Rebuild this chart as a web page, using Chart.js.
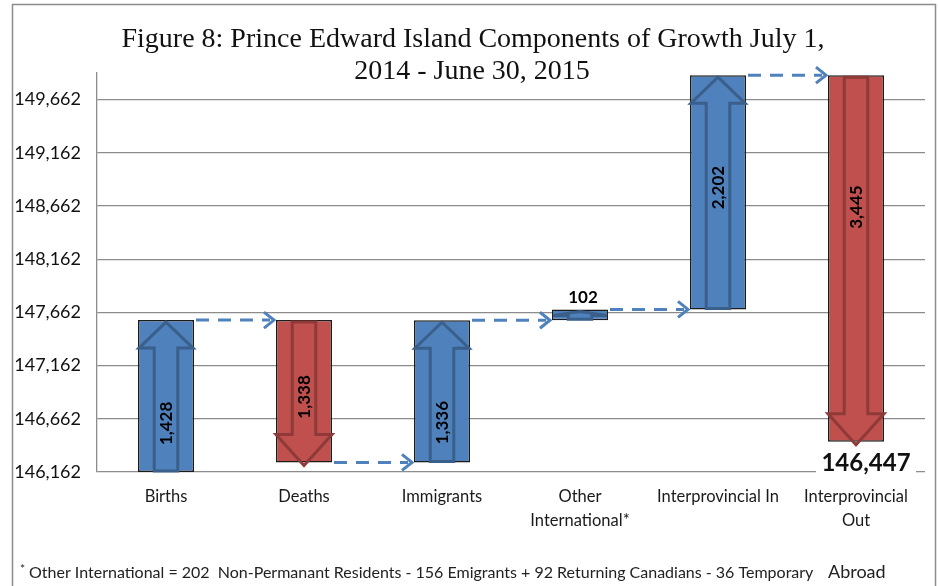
<!DOCTYPE html>
<html>
<head>
<meta charset="utf-8">
<script src="https://cdn.jsdelivr.net/npm/chart.js@4"></script>
<style>
  body { margin: 0; background: #fff; }
  #wrap { width: 938px; height: 586px; }
</style>
</head>
<body>
<div id="wrap"><canvas id="growthChart" width="938" height="586"></canvas></div>
<script>
// Components of growth, PEI, July 1 2014 - June 30 2015
const categories = ['Births', 'Deaths', 'Immigrants', ['Other', 'International*'], 'Interprovincial In', ['Interprovincial', 'Out']];
const changes = [1428, -1338, 1336, 102, 2202, -3445];
const startPopulation = 146162;
const endPopulation = 146447;
const tickValues = [146162, 146662, 147162, 147662, 148162, 148662, 149162, 149662];

const blue = '#4F81BD';
const red = '#C0504D';

// floating bar ranges for the waterfall
let level = startPopulation;
const ranges = changes.map(c => {
    const r = [level, level + c];
    level += c;
    return r;
});

const fmt = v => Math.abs(v).toLocaleString('en-US');

// frame, title and footnote
const decorPlugin = {
    id: 'decor',
    beforeDraw(chart) {
        const ctx = chart.ctx;
        ctx.save();
        ctx.fillStyle = '#fff';
        ctx.fillRect(0, 0, chart.width, chart.height);
        ctx.strokeStyle = '#8c8c8c';
        ctx.lineWidth = 1.5;
        ctx.strokeRect(12.5, 4.5, 923, 620);
        ctx.restore();
    },
    afterDraw(chart) {
        const ctx = chart.ctx;
        ctx.save();
        ctx.fillStyle = '#111';
        ctx.textAlign = 'center';
        ctx.textBaseline = 'middle';
        ctx.font = '28px "Liberation Serif", serif';
        ctx.fillText('Figure 8: Prince Edward Island Components of Growth July 1,', 473, 40, 717);
        ctx.fillText('2014 - June 30, 2015', 472, 72, 240);

        ctx.textAlign = 'left';
        ctx.fillStyle = '#222';
        ctx.font = '12px Lato, sans-serif';
        ctx.fillText('*', 20, 569);
        ctx.font = '16px Lato, sans-serif';
        ctx.fillText('Other International = 202  Non-Permanant Residents - 156 Emigrants + 92 Returning Canadians - 36 Temporary', 29, 573, 795);
        ctx.font = '18px Lato, sans-serif';
        ctx.fillText('Abroad', 828, 572, 60);
        ctx.restore();
    }
};

// arrows inside bars, dashed connectors, value labels
const waterfallPlugin = {
    id: 'waterfall',
    afterDatasetsDraw(chart, args, opts) {
        const ctx = chart.ctx;
        const y = chart.scales.y;
        const bars = chart.getDatasetMeta(0).data;
        ctx.save();

        bars.forEach((bar, i) => {
            const p = bar.getProps(['x', 'y', 'base', 'width'], true);
            const top = Math.min(p.y, p.base), bottom = Math.max(p.y, p.base);
            const l = p.x - p.width / 2, r = p.x + p.width / 2;
            const up = changes[i] > 0;
            const h = bottom - top;
            const hh = Math.min(28, h * 0.55);
            const sw = p.width * 0.21;
            ctx.strokeStyle = up ? '#3A5F8B' : '#8E3A38';
            ctx.lineWidth = 3;
            ctx.lineJoin = 'miter';
            ctx.beginPath();
            if (up) {
                ctx.moveTo(p.x, top + 2);
                ctx.lineTo(r - 1, top + hh);
                ctx.lineTo(p.x + sw, top + hh);
                ctx.lineTo(p.x + sw, bottom - 1);
                ctx.lineTo(p.x - sw, bottom - 1);
                ctx.lineTo(p.x - sw, top + hh);
                ctx.lineTo(l + 1, top + hh);
            } else {
                ctx.moveTo(p.x, bottom + 3);
                ctx.lineTo(r, bottom - hh);
                ctx.lineTo(p.x + sw, bottom - hh);
                ctx.lineTo(p.x + sw, top + 2);
                ctx.lineTo(p.x - sw, top + 2);
                ctx.lineTo(p.x - sw, bottom - hh);
                ctx.lineTo(l, bottom - hh);
            }
            ctx.closePath();
            ctx.stroke();

            // value label
            ctx.fillStyle = '#000';
            ctx.textAlign = 'center';
            ctx.textBaseline = 'middle';
            const at = opts.labelAt[i];
            if (at === null) {
                ctx.font = 'bold 17px Lato, sans-serif';
                ctx.fillText(fmt(changes[i]), p.x + 3, top - 12);
            } else {
                ctx.save();
                ctx.translate(p.x + 1, top + h * at);
                ctx.rotate(-Math.PI / 2);
                ctx.font = 'bold 17px Lato, sans-serif';
                ctx.fillText(fmt(changes[i]), 0, 0);
                ctx.restore();
            }

            // dashed connector to the next bar
            if (i < bars.length - 1) {
                const n = bars[i + 1].getProps(['x', 'width'], true);
                const yy = y.getPixelForValue(ranges[i][1]);
                const x1 = r + 2, x2 = n.x - n.width / 2 - 2;
                ctx.strokeStyle = blue;
                ctx.lineWidth = 3;
                ctx.setLineDash([13, 9]);
                ctx.beginPath();
                ctx.moveTo(x1, yy);
                ctx.lineTo(x2 - 4, yy);
                ctx.stroke();
                ctx.setLineDash([]);
                ctx.beginPath();
                ctx.moveTo(x2 - 10, yy - 8);
                ctx.lineTo(x2, yy);
                ctx.lineTo(x2 - 10, yy + 8);
                ctx.stroke();
            }
        });

        // final population
        const last = bars[bars.length - 1].getProps(['x', 'y', 'base'], true);
        const lastBottom = Math.max(last.y, last.base);
        ctx.fillStyle = '#fff';
        ctx.fillRect(last.x - 40, lastBottom + 7, 100, 28);
        ctx.fillStyle = '#111';
        ctx.font = 'bold 24px Lato, sans-serif';
        ctx.textAlign = 'center';
        ctx.fillText(endPopulation.toLocaleString('en-US'), last.x + 10, lastBottom + 22);
        ctx.restore();
    }
};

const ctx = document.getElementById('growthChart').getContext('2d');
const growthChart = new Chart(ctx, {
    type: 'bar',
    data: {
        labels: categories,
        datasets: [{
            data: ranges,
            backgroundColor: changes.map(c => c > 0 ? blue : red),
            borderColor: '#1b1b1b',
            borderWidth: 1.5,
            borderSkipped: false,
            categoryPercentage: 1,
            barPercentage: 0.406
        }]
    },
    options: {
        responsive: false,
        animation: false,
        layout: { padding: { top: 73, right: 13, left: 0, bottom: 0 } },
        scales: {
            x: {
                grid: { display: false, drawTicks: false },
                border: { display: false },
                ticks: {
                    color: '#1a1a1a',
                    font: { family: 'Lato', size: 16.5, lineHeight: 1.45 },
                    padding: 13,
                    maxRotation: 0,
                    autoSkip: false
                },
                afterFit: s => { s.height = 114; }
            },
            y: {
                min: startPopulation,
                max: 149912,
                afterBuildTicks: s => { s.ticks = tickValues.map(v => ({ value: v })); },
                grid: { color: '#8c8c8c', lineWidth: 1.3, drawTicks: false },
                border: { color: '#8c8c8c', width: 1.3 },
                ticks: {
                    color: '#111',
                    font: { family: 'Lato', size: 18 },
                    padding: 16,
                    callback: v => v.toLocaleString('en-US')
                },
                afterFit: s => { s.width = 97; }
            }
        },
        plugins: {
            legend: { display: false },
            tooltip: { enabled: false },
            waterfall: { labelAt: [0.68, 0.54, 0.72, null, 0.48, 0.36] }
        }
    },
    plugins: [decorPlugin, waterfallPlugin]
});
</script>
</body>
</html>
